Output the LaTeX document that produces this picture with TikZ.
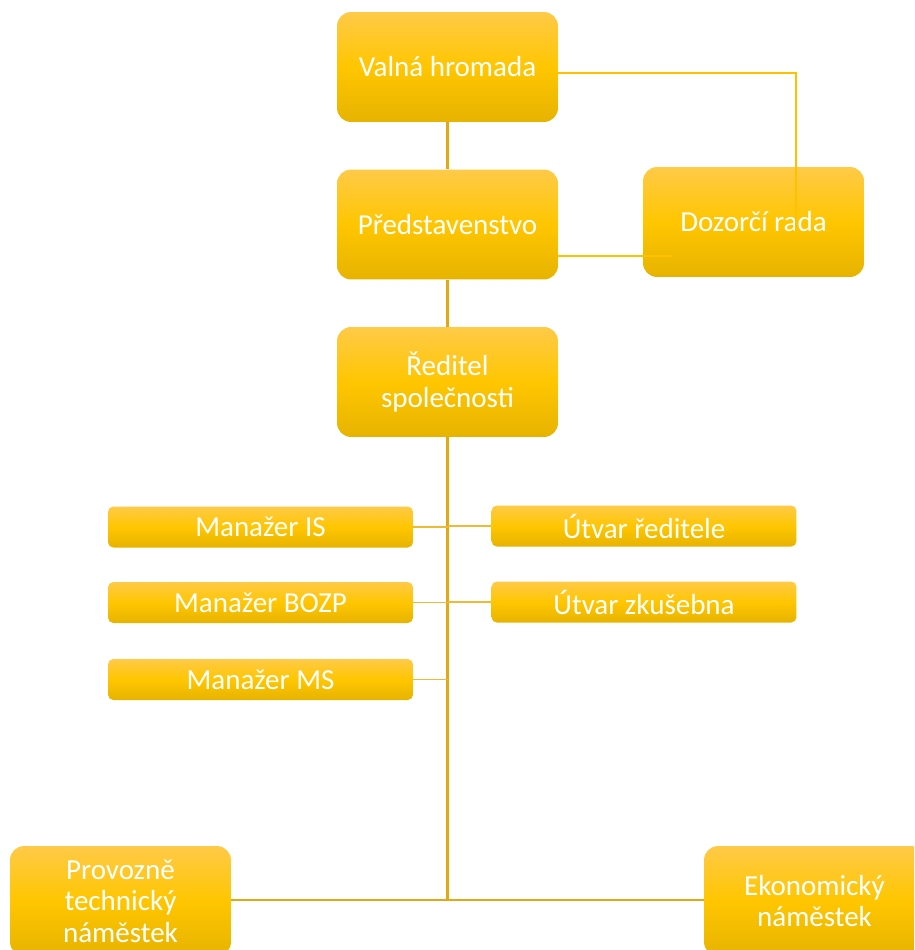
\documentclass[tikz,border=0pt]{standalone}
\usepackage{fontspec}
\setmainfont{Carlito}
\usetikzlibrary{positioning}

\definecolor{boxtop}{HTML}{FFCA48}
\definecolor{boxmid}{HTML}{FFC600}
\definecolor{boxbot}{HTML}{E6B300}
\definecolor{linkc}{HTML}{FFC000}
\definecolor{trunkc}{HTML}{E2A915}
\definecolor{branchc}{HTML}{EDBA35}

\begin{document}
\begin{tikzpicture}[x=0.02cm, y=-0.02cm]
    \tikzstyle{orgbox}=[text=white, align=center, font=\fontsize{16.5}{18}\selectfont,
        top color=boxtop, bottom color=boxbot, middle color=boxmid, inner sep=2pt]
    \tikzstyle{bigbox}=[orgbox, rounded corners=8pt, minimum width=4.42cm, minimum height=2.2cm]
    \tikzstyle{smallbox}=[orgbox, rounded corners=3pt, minimum width=6.1cm, minimum height=0.82cm]
    \tikzstyle{link}=[draw=linkc, line width=0.8pt]
    \tikzstyle{trunk}=[draw=trunkc, line width=1.2pt]
    \tikzstyle{branch}=[draw=branchc, line width=1pt]

    \clip (0,0) rectangle (914,950);

    % top part
    \node[bigbox] (vh) at (447.5,67) {Valná hromada};
    \node[bigbox] (pr) at (447.5,224.5) {Představenstvo};
    \node[bigbox] (dr) at (753.5,222) {Dozorčí rada};
    \node[bigbox] (rs) at (447.5,382) {Ředitel\\společnosti};

    % staff
    \node[smallbox] (mis) at (260.5,527) {Manažer IS};
    \node[smallbox] (mbozp) at (260.5,602.5) {Manažer BOZP};
    \node[smallbox] (mms) at (260.5,679.5) {Manažer MS};
    \node[smallbox] (ur) at (644,526) {Útvar ředitele};
    \node[smallbox] (uz) at (644,602) {Útvar zkušebna};

    % deputies
    \node[bigbox] (ptn) at (120.5,901) {Provozně\\technický\\náměstek};
    \node[bigbox] (en) at (814.5,901) {Ekonomický\\náměstek};

    \coordinate (tend) at (447.5,900);
    \coordinate (drtop) at (796,232);
    \coordinate (drleft) at (672,256);

    \draw[trunk] (vh) -- (pr);
    \draw[trunk] (pr) -- (rs);
    \draw[trunk] (rs.south) -- (tend);
    \draw[trunk] (ptn.east |- tend) -- (en.west |- tend);

    \foreach \i in {mis, mbozp, mms} {
        \draw[branch] (\i.east) -- (\i.east -| tend);
    }
    \foreach \i in {ur, uz} {
        \draw[branch] (\i.west) -- (\i.west -| tend);
    }

    \draw[link] ([yshift=-0.12cm]vh.east) -| (drtop);
    \draw[link] (pr.east |- drleft) -- (drleft);
\end{tikzpicture}
\end{document}
